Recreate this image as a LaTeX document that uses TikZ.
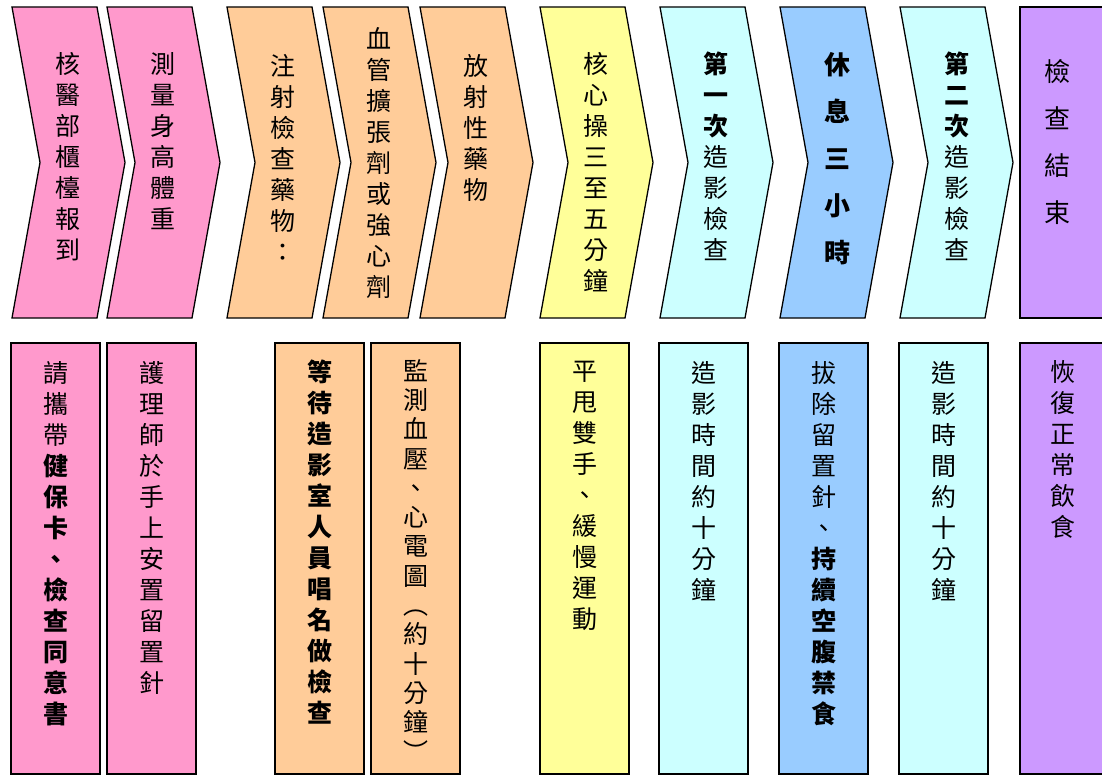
\documentclass[tikz,border=0pt]{standalone}
\usepackage{fontspec}
\newfontfamily\cjk{Noto Sans CJK TC}
\definecolor{checkin}{HTML}{FF99CC}
\definecolor{inject}{HTML}{FFCC99}
\definecolor{exercise}{HTML}{FFFF99}
\definecolor{scan}{HTML}{CCFFFF}
\definecolor{rest}{HTML}{99CCFF}
\definecolor{finish}{HTML}{CC99FF}
\newcommand*{\HalfHeight}{155.5}
\newcommand*{\DrawChevrons}[1]{% #1 = list of x/colour
  \foreach \x/\fillcol in {#1} {
    \draw [fill=\fillcol, line width=1.3pt, line join=miter]
      (\x,7) -- ++(85,0) -- ++(28,\HalfHeight) -- ++(-28,\HalfHeight)
      -- ++(-85,0) -- ++(28,-\HalfHeight) -- cycle;
    }%
}
\newcommand*{\DrawBoxes}[1]{% #1 = list of x/colour
  \foreach \x/\fillcol in {#1} {
    \draw [fill=\fillcol, line width=1.3pt] (\x,343) rectangle ++(89,431);
    }%
}

\begin{document}
\begin{tikzpicture}[x=1pt,y=-1pt,
    steptext/.style={anchor=north,align=center,inner sep=0pt,
      font=\cjk\fontsize{25}{31}\selectfont},
    boldtext/.style={steptext,font=\cjk\bfseries\fontsize{25}{31}\selectfont},
    widetext/.style={steptext,font=\cjk\fontsize{26}{47}\selectfont},
    tighttext/.style={steptext,font=\cjk\fontsize{25}{29.3}\selectfont}]
        \useasboundingbox (0,0) rectangle (1102,776);
        \clip (0,0) rectangle (1102,776);
        % top row: steps
        \DrawChevrons{12/checkin,107/checkin,227/inject,323/inject,420/inject,
          540/exercise,660/scan,780/rest,900/scan}
        \draw [fill=finish, line width=1.3pt] (1020,7) rectangle (1112,318);
        \node[steptext] (reg)   at (68,52)  {核\\醫\\部\\櫃\\檯\\報\\到};
        \node[steptext] (meas)  at (163,52) {測\\量\\身\\高\\體\\重};
        \node[steptext] (inj)   at (283,54) {注\\射\\檢\\查\\藥\\物\\：};
        \node[steptext] (vaso)  at (379,27) {血\\管\\擴\\張\\劑\\或\\強\\心\\劑};
        \node[steptext] (radio) at (476,54) {放\\射\\性\\藥\\物};
        \node[steptext] (core)  at (596,52) {核\\心\\操\\三\\至\\五\\分\\鐘};
        \node[steptext] (scan1) at (716,52)
          {\textbf{第}\\\textbf{一}\\\textbf{次}\\造\\影\\檢\\查};
        \node[widetext] (pause) at (837,52)
          {\textbf{休}\\\textbf{息}\\\textbf{三}\\\textbf{小}\\\textbf{時}};
        \node[steptext] (scan2) at (957,52)
          {\textbf{第}\\\textbf{二}\\\textbf{次}\\造\\影\\檢\\查};
        \node[widetext] (done)  at (1057,59) {檢\\查\\結\\束};
        % bottom row: notes
        \DrawBoxes{11/checkin,107/checkin,275/inject,371/inject,540/exercise,
          659/scan,779/rest,899/scan,1020/finish}
        \node[steptext] (cards) at (55.5,361)
          {請\\攜\\帶\\\textbf{健}\\\textbf{保}\\\textbf{卡}\\\textbf{、}\\
           \textbf{檢}\\\textbf{查}\\\textbf{同}\\\textbf{意}\\\textbf{書}};
        \node[steptext] (needle) at (151.5,361)
          {護\\理\\師\\於\\手\\上\\安\\置\\留\\置\\針};
        \node[boldtext] (wait)  at (319.5,360)
          {等\\待\\造\\影\\室\\人\\員\\唱\\名\\做\\檢\\查};
        \node[tighttext] (ecg)  at (415.5,359)
          {監\\測\\血\\壓\\、\\心\\電\\圖\\︵\\約\\十\\分\\鐘\\︶};
        \node[steptext] (swing) at (584.5,361)
          {平\\甩\\雙\\手\\、\\緩\\慢\\運\\動};
        \node[steptext] (time1) at (703.5,361)
          {造\\影\\時\\間\\約\\十\\分\\鐘};
        \node[steptext] (fast)  at (823.5,361)
          {拔\\除\\留\\置\\針\\、\\\textbf{持}\\\textbf{續}\\\textbf{空}\\
           \textbf{腹}\\\textbf{禁}\\\textbf{食}};
        \node[steptext] (time2) at (943.5,361)
          {造\\影\\時\\間\\約\\十\\分\\鐘};
        \node[steptext] (meal)  at (1063,360)
          {恢\\復\\正\\常\\飲\\食};
    \end{tikzpicture}
\end{document}
